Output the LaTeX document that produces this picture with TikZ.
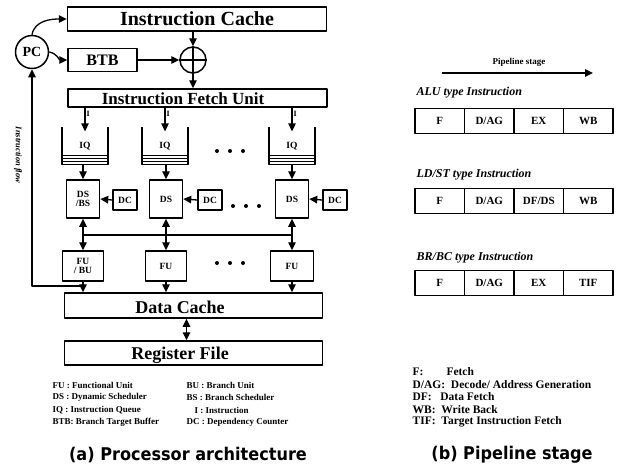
\documentclass[tikz,border=0pt]{standalone}
\usepackage{fontspec}
\setmainfont{Liberation Serif}
\newfontfamily\capfont[FakeStretch=0.92]{DejaVu Sans}
\usetikzlibrary{arrows.meta}

\begin{document}
\begin{tikzpicture}[x=1pt, y=-1pt, line join=round, line width=1.3pt,
    >={Triangle[length=8pt, width=7.5pt]}, font=\bfseries,
    widebox/.style={draw, line width=1.5pt, minimum width=259pt, inner sep=0pt},
    smallbox/.style={draw, line width=1.5pt, inner sep=0pt, align=center,
      font=\bfseries\fontsize{9.5}{8.5}\selectfont},
    queue/.style={minimum width=45pt, minimum height=36pt, inner sep=0pt,
      font=\bfseries\fontsize{9.5}{8}\selectfont},
    stagecell/.style={draw, line width=1.5pt, minimum width=49.5pt, minimum height=25pt,
      inner sep=0pt, font=\bfseries\fontsize{11}{11}\selectfont},
    rowlabel/.style={anchor=west, inner sep=0pt, font=\bfseries\itshape\fontsize{12}{12}\selectfont},
    legend/.style={anchor=west, inner sep=0pt, font=\bfseries\fontsize{9}{9}\selectfont},
    keyline/.style={anchor=west, inner sep=0pt, font=\bfseries\fontsize{11.5}{11}\selectfont},
    caption/.style={inner sep=0pt, font=\capfont\bfseries\fontsize{17.5}{17}\selectfont}]

    % Page frame
    \useasboundingbox (0,0) rectangle (623,469);

    % Fetch stage
    \node[widebox, minimum height=24pt, text depth=1pt, font=\bfseries\fontsize{20}{20}\selectfont] (ic) at (197,19) {Instruction Cache};
    \node[draw, circle, line width=1.5pt, minimum size=33pt, inner sep=0pt,
      font=\bfseries\fontsize{14}{14}\selectfont] (pc) at (32,52) {PC};
    \node[draw, line width=1.5pt, minimum width=69pt, minimum height=23pt,
      font=\bfseries\fontsize{16}{16}\selectfont] (btb) at (102.5,60) {BTB};
    \node[draw, circle, line width=1.5pt, minimum size=26pt, inner sep=0pt] (mux) at (193,60) {};
    \draw[line width=1.5pt] (mux.north) -- (mux.south) (mux.west) -- (mux.east);
    \node[widebox, minimum height=18pt] (ifu) at (197.5,98) {};
    \node[inner sep=0pt, anchor=base, font=\bfseries\fontsize{17}{17}\selectfont] (ifutext) at (183,104) {Instruction Fetch Unit};

    \draw[->] (pc.north) to[out=80, in=180] (ic.west);
    \draw[->] (pc.east) to[out=-10, in=180] (btb.west);
    \draw[->] (mux |- ic.south) -- (mux.north);
    \draw[->] (btb.east) -- (mux.west);
    \draw[->] (mux.south) -- (mux |- ifu.north);

    % Instruction queues
    \foreach \n/\x in {1/85, 2/165, 3/292} {
      \node[queue] (iq\n) at (\x,146) {IQ};
      \draw[line width=1.5pt] (iq\n.north west) -- (iq\n.south west) -- (iq\n.south east) -- (iq\n.north east);
      \foreach \dy in {3,6,9}
        \draw[line width=0.9pt] ([yshift=\dy pt]iq\n.south west) -- ([yshift=\dy pt]iq\n.south east);
      \draw[->] (iq\n |- ifu.south) -- node[right, pos=0.25, inner sep=1pt, font=\bfseries\fontsize{8}{8}\selectfont] {I}
        ([yshift=-4pt]iq\n.north);
    }

    % Schedulers and dependency counters
    \node[smallbox, minimum width=33pt, minimum height=38pt] (ds1) at (83,199) {DS\\/BS};
    \node[smallbox, minimum width=33pt, minimum height=38pt] (ds2) at (166,199) {DS};
    \node[smallbox, minimum width=33pt, minimum height=38pt] (ds3) at (292,199) {DS};
    \node[smallbox, minimum width=24pt, minimum height=20pt] (dc1) at (125,200) {DC};
    \node[smallbox, minimum width=24pt, minimum height=20pt] (dc2) at (210,200) {DC};
    \node[smallbox, minimum width=24pt, minimum height=20pt] (dc3) at (335,200) {DC};

    % Functional units
    \node[smallbox, minimum width=41pt, minimum height=30pt] (fu1) at (83,266) {FU\\/ BU};
    \node[smallbox, minimum width=41pt, minimum height=30pt] (fu2) at (166,266) {FU};
    \node[smallbox, minimum width=43pt, minimum height=30pt] (fu3) at (292,266) {FU};

    % Memory side
    \node[widebox, minimum width=258pt, minimum height=25pt] (dcache) at (193.5,305.5) {};
    \node[inner sep=0pt, anchor=base, font=\bfseries\fontsize{18}{18}\selectfont] (dctext) at (180,313.5) {Data Cache};
    \node[widebox, minimum width=258pt, minimum height=24pt] (rf) at (193.5,353) {};
    \node[inner sep=0pt, anchor=base, font=\bfseries\fontsize{18}{18}\selectfont] (rftext) at (180,359.5) {Register File};

    \coordinate (bus) at (0,235);
    \coordinate (fb) at (32,286);
    \foreach \n in {1,2,3} {
      \draw[->] (ds\n |- iq\n.south) -- (ds\n.north);
      \draw[->] (dc\n.west) -- (ds\n.east);
      \draw[<->] (ds\n.south) -- (fu\n.north);
      \draw[->] (fu\n.south) -- (fu\n.south |- dcache.north);
    }
    \draw (ds1 |- bus) -- (ds3 |- bus);
    \draw[->] (fu1.south |- fb) -- (fb) -- (pc.south);
    \draw[<->] ([xshift=-7pt]dcache.south) -- ([xshift=-7pt]dcache.south |- rf.north);
    \node[rotate=-90, font=\bfseries\itshape\fontsize{8.5}{8}\selectfont] (flow) at (18,155) {Instruction flow};

    % Dots between columns
    \foreach \x/\y in {217/151, 233/206, 217/263}
      \foreach \d in {0,13,26}
        \fill (\x+\d,\y) circle (2pt);

    % Abbreviations (left)
    \node[legend] (l1) at (52,385) {FU : Functional Unit};
    \node[legend] (l2) at (52,397.5) {DS : Dynamic Scheduler};
    \node[legend] (l3) at (52,410) {IQ : Instruction Queue};
    \node[legend] (l4) at (52,422.5) {BTB: Branch Target Buffer};
    \node[legend] (r1) at (186,385) {BU : Branch Unit};
    \node[legend] (r2) at (186,397.5) {BS : Branch Scheduler};
    \node[legend] (r3) at (194,410) {I : Instruction};
    \node[legend] (r4) at (186,422.5) {DC : Dependency Counter};

    % Pipeline stages
    \coordinate (ps0) at (442,73);
    \coordinate (ps1) at (593,73);
    \draw[->] (ps0) -- (ps1);
    \node[font=\bfseries\fontsize{9}{9}\selectfont] (pstage) at (519,62) {Pipeline stage};

    \node[rowlabel] (alulab) at (416,93) {ALU type Instruction};
    \foreach \t [count=\i] in {F, D/AG, EX, WB}
      \node[stagecell] (alu\i) at ({415+49.5*\i-24.75},121) {\t};

    \node[rowlabel] (ldlab) at (416,175) {LD/ST type Instruction};
    \foreach \t [count=\i] in {F, D/AG, DF/DS, WB}
      \node[stagecell] (ld\i) at ({415+49.5*\i-24.75},201) {\t};

    \node[rowlabel] (brlab) at (416,258) {BR/BC type Instruction};
    \foreach \t [count=\i] in {F, D/AG, EX, TIF}
      \node[stagecell] (br\i) at ({415+49.5*\i-24.75},283) {\t};

    % Abbreviations (right)
    \node[keyline] (k1) at (412,372) {F:\qquad Fetch};
    \node[keyline] (k2) at (412,384.5) {D/AG:\ \ Decode/ Address Generation};
    \node[keyline] (k3) at (412,397) {DF:\ \ \ Data Fetch};
    \node[keyline] (k4) at (412,409.5) {WB:\ \ Write Back};
    \node[keyline] (k5) at (412,422) {TIF:\ \ Target Instruction Fetch};

    % Captions
    \node[caption] (capa) at (188,455) {(a) Processor architecture};
    \node[caption] (capb) at (512,455) {(b) Pipeline stage};
\end{tikzpicture}
\end{document}
